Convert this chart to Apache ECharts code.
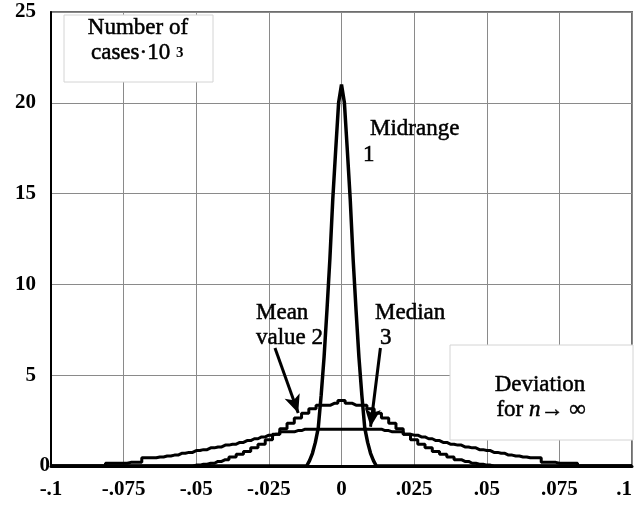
<!DOCTYPE html>
<html>
<head>
<meta charset="utf-8">
<script src="https://cdn.jsdelivr.net/npm/echarts@6/dist/echarts.min.js"></script>
<style>
html,body{margin:0;padding:0;background:#fff;}
#c{width:635px;height:507px;}
</style>
</head>
<body>
<div id="c"></div>
<script>
// ---- data ----
const xTicks = [-0.1, -0.075, -0.05, -0.025, 0, 0.025, 0.05, 0.075, 0.1];
const xTickLabels = ['-.1', '-.075', '-.05', '-.025', '0', '.025', '.05', '.075', '.1'];
const yTicks = [0, 5, 10, 15, 20, 25];
const yTickLabels = ['0', '5', '10', '15', '20', '25'];

// Curve 1: midrange
const midrangeX = [-0.1, -0.012, -0.011, -0.010, -0.009, -0.008, -0.007, -0.006, -0.005, -0.004, -0.003, -0.002, -0.001, 0,
  0.001, 0.002, 0.003, 0.004, 0.005, 0.006, 0.007, 0.008, 0.009, 0.010, 0.011, 0.012, 0.1];
const midrangeY = [0, 0, 0.3, 0.7, 1.3, 2.1, 3.9, 6.0, 8.6, 11.4, 14.7, 17.4, 20, 21,
  20, 17.4, 14.7, 11.4, 8.6, 6.0, 3.9, 2.1, 1.3, 0.7, 0.3, 0, 0];

// Histogram bins for curves 2 and 3
const binX = [-0.1, -0.0875, -0.085, -0.0825, -0.08, -0.0775, -0.075, -0.0725, -0.07, -0.0675, -0.065, -0.0625,
  -0.06, -0.0575, -0.055, -0.0525, -0.05, -0.0475, -0.045, -0.0425, -0.04, -0.0375, -0.035, -0.0325,
  -0.03, -0.0275, -0.025, -0.0225, -0.02, -0.0175, -0.015, -0.0125, -0.01, -0.0075, -0.005, -0.0025, 0,
  0.0025, 0.005, 0.0075, 0.01, 0.0125, 0.015, 0.0175, 0.02, 0.0225, 0.025, 0.0275, 0.03,
  0.0325, 0.035, 0.0375, 0.04, 0.0425, 0.045, 0.0475, 0.05, 0.0525, 0.055, 0.0575, 0.06,
  0.0625, 0.065, 0.0675, 0.07, 0.0725, 0.075, 0.0775, 0.08, 0.0825, 0.085, 0.0875, 0.1];
// Curve 2: mean value
const meanY = [0, 0, 0, 0, 0, 0, 0, 0, 0, 0, 0, 0,
  0, 0, 0, 0, 0.05, 0.1, 0.15, 0.25, 0.35, 0.5, 0.65, 0.8,
  1.0, 1.2, 1.45, 1.75, 2.05, 2.35, 2.65, 2.9, 3.15, 3.35, 3.35, 3.45, 3.6,
  3.45, 3.35, 3.35, 3.15, 2.9, 2.65, 2.35, 2.05, 1.75, 1.45, 1.2, 1.0,
  0.8, 0.65, 0.5, 0.35, 0.25, 0.15, 0.1, 0.05, 0, 0, 0, 0,
  0, 0, 0, 0, 0, 0, 0, 0, 0, 0, 0, 0];
// Curve 3: median
const medianY = [0, 0, 0, 0, 0.15, 0.15, 0.15, 0.2, 0.2, 0.45, 0.45, 0.5,
  0.55, 0.6, 0.7, 0.75, 0.85, 0.9, 1.0, 1.05, 1.15, 1.2, 1.3, 1.4,
  1.5, 1.6, 1.7, 1.75, 1.88, 1.88, 1.95, 2.03, 2.03, 2.03, 2.03, 2.03, 2.03,
  2.03, 2.03, 2.03, 2.03, 2.03, 1.95, 1.88, 1.88, 1.75, 1.7, 1.6, 1.5,
  1.4, 1.3, 1.2, 1.15, 1.05, 1.0, 0.9, 0.85, 0.75, 0.7, 0.6, 0.55,
  0.5, 0.45, 0.45, 0.2, 0.2, 0.15, 0.15, 0.15, 0, 0, 0, 0];

// Arrow annotations (data coordinates): [from, to]
const meanArrow = [[-0.0229, 6.5], [-0.0149, 2.92]];
const medianArrow = [[0.0134, 6.5], [0.0100, 2.16]];

// ---- chart ----
const zip = (xs, ys) => xs.map((x, i) => [x, ys[i]]);
const chart = echarts.init(document.getElementById('c'), null, {renderer: 'canvas'});
const annFont = '23px "Liberation Serif"';

function xLabel(v) {
  const i = xTicks.findIndex(t => Math.abs(t - v) < 1e-9);
  if (i < 0) return '';
  return '{n|' + xTickLabels[i] + '}';
}
function yLabel(v) {
  const i = yTicks.findIndex(t => Math.abs(t - v) < 1e-9);
  if (i < 0) return '';
  if (i === 0) return '{z|' + yTickLabels[i] + '}';
  return '{p|' + yTickLabels[i] + '}';
}
const lblStyle = {fontFamily: 'Liberation Serif', fontSize: 21, fontWeight: 'bold', color: '#000'};
const ann = (text, x, y, align) => ({
  type: 'text', z: 51,
  style: {text: text, x: x, y: y, font: annFont, fill: '#000', stroke: '#000', lineWidth: 0.5,
    align: align || 'left', verticalAlign: 'middle'}
});

chart.setOption({
  animation: false,
  backgroundColor: '#fff',
  grid: {left: 51, top: 12, width: 589, height: 454, show: true, borderColor: '#6e6e6e', borderWidth: 2, containLabel: false},
  xAxis: {
    type: 'value', min: -0.1, max: 0.1, interval: 0.025,
    axisLine: {show: true, onZero: false, lineStyle: {color: '#000', width: 3}},
    axisTick: {show: false},
    splitLine: {show: true, lineStyle: {color: '#8a8a8a', width: 1}},
    axisLabel: {
      margin: 13, formatter: xLabel, showMinLabel: true, showMaxLabel: true, alignMaxLabel: 'right',
      rich: {n: Object.assign({}, lblStyle)}
    }
  },
  yAxis: {
    type: 'value', min: 0, max: 25, interval: 5,
    axisLine: {show: true, onZero: false, lineStyle: {color: '#000', width: 2}},
    axisTick: {show: false},
    splitLine: {show: true, lineStyle: {color: '#8a8a8a', width: 1}},
    axisLabel: {
      margin: 1, formatter: yLabel,
      rich: {z: Object.assign({}, lblStyle), p: Object.assign({padding: [0, 14, 0, 0]}, lblStyle)}
    }
  },
  series: [
    {
      name: 'Median 3', type: 'line', data: zip(binX, medianY), step: 'middle',
      showSymbol: false, symbol: 'none', lineStyle: {color: '#000', width: 3}, z: 3
    },
    {
      name: 'Mean value 2', type: 'line', data: zip(binX, meanY), step: 'middle',
      showSymbol: false, symbol: 'none', lineStyle: {color: '#000', width: 3}, z: 3
    },
    {
      name: 'Midrange 1', type: 'line', data: zip(midrangeX, midrangeY),
      showSymbol: false, symbol: 'none', lineStyle: {color: '#000', width: 3.5}, z: 4,
      markLine: {
        silent: true, symbol: ['none', 'arrow'], symbolSize: [12, 18],
        label: {show: false},
        lineStyle: {color: '#000', width: 3, type: 'solid'},
        data: [
          [{coord: meanArrow[0]}, {coord: meanArrow[1]}],
          [{coord: medianArrow[0]}, {coord: medianArrow[1]}]
        ]
      }
    }
  ],
  graphic: [
    {type: 'rect', z: 50, shape: {x: 64, y: 15, width: 149, height: 67}, style: {fill: '#fff', stroke: '#d4d4d4', lineWidth: 1}},
    ann('Number of', 138, 28, 'center'),
    ann('cases·10', 91, 53),
    {type: 'text', z: 51, style: {text: '3', x: 176, y: 53, font: 'bold 15px "Liberation Serif"', fill: '#000', align: 'left', verticalAlign: 'middle'}},

    ann('Midrange', 370, 129),
    ann('1', 363, 155),
    ann('Mean', 256, 313),
    ann('value 2', 256, 338),
    ann('Median', 375, 313),
    ann('3', 380, 338),

    {type: 'rect', z: 50, shape: {x: 450, y: 345, width: 183, height: 95}, style: {fill: '#fff', stroke: '#d4d4d4', lineWidth: 1}},
    ann('Deviation', 540, 385, 'center'),
    {type: 'text', z: 51, style: {
      text: '{a|for }{i|n}{a|→ ∞}', x: 541, y: 410, align: 'center', verticalAlign: 'middle',
      rich: {
        a: {fontFamily: 'Liberation Serif', fontSize: 23, fill: '#000', stroke: '#000', lineWidth: 0.5},
        i: {fontFamily: 'Liberation Serif', fontSize: 23, fontStyle: 'italic', fill: '#000', stroke: '#000', lineWidth: 0.5}
      }
    }}
  ]
});
</script>
</body>
</html>
